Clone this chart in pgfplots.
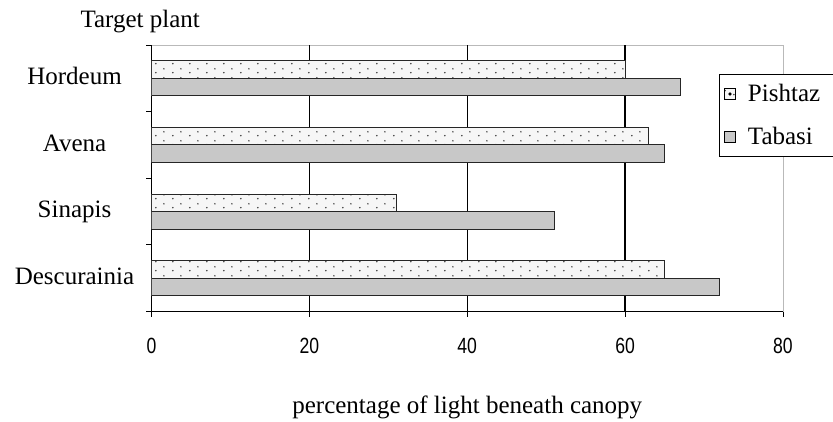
\documentclass[border=0pt]{standalone}
\usepackage{fontspec}
\setmainfont{Liberation Serif}
\newfontfamily\tickfont[FakeStretch=0.8]{Liberation Sans}
\usepackage{pgfplots}
\pgfplotsset{compat=1.18}
\usetikzlibrary{patterns}
\pgfdeclarepatternformonly{sparsedots}{\pgfpointorigin}{\pgfpoint{17pt}{8.75pt}}{\pgfpoint{17pt}{8.75pt}}{%
  \pgfpathcircle{\pgfpoint{3pt}{2.4pt}}{0.9pt}%
  \pgfpathcircle{\pgfpoint{11.5pt}{6.4pt}}{0.9pt}%
  \pgfusepath{fill}}
\definecolor{lightbar}{HTML}{F6F6F6}
\definecolor{graybar}{HTML}{C8C8C8}
\begin{document}
\begin{tikzpicture}
\path[use as bounding box] (0,0) rectangle (833pt,421pt);
\begin{axis}[
  at={(151.5pt,109.5pt)}, anchor=south west,
  scale only axis, width=631.5pt, height=266.5pt,
  xbar, bar width=17.5pt,
  xmin=0, xmax=80, ymin=-0.5, ymax=3.5,
  axis x line*=bottom, axis y line*=left,
  axis line style={-, black},
  x axis line style={line width=1.2pt},
  y axis line style={line width=1.6pt},
  axis background/.style={draw=gray!55, line width=1pt},
  tick align=outside, major tick length=5pt,
  tick style={black, line width=1pt},
  xtick={0,20,40,60,80},
  /pgf/number format/assume math mode=true,
  xticklabel style={font=\fontsize{22}{22}\tickfont, yshift=-18pt},
  extra x ticks={20,40,60}, extra x tick labels={,,},
  extra x tick style={grid=major, major grid style={black, line width=1.3pt}, tick style={draw=none}},
  ytick={-0.5,0.5,1.5,2.5,3.5}, yticklabels={,,,,},
  extra y ticks={0,1,2,3},
  extra y tick labels={Descurainia,Sinapis,Avena,Hordeum},
  extra y tick style={tick style={draw=none}},
  yticklabel style={anchor=center, xshift=-72pt, yshift=-3pt, font=\fontsize{25}{25}\selectfont, text height=0.66em, text depth=0pt},
  xlabel={percentage of light beneath canopy},
  every axis x label/.style={at={(rel axis cs:0.5,0)}, anchor=base, yshift=-101.5pt, font=\fontsize{25}{25}\selectfont},
  ylabel={Target plant},
  every axis y label/.style={at={(rel axis cs:0,1)}, anchor=base west, xshift=-74.5pt, yshift=18pt, font=\fontsize{25}{25}\selectfont},
  legend style={at={(rel axis cs:0.898,0.891)}, anchor=north west, draw=black, line width=1pt,
    font=\fontsize{25}{25}\selectfont, inner xsep=5pt, inner ysep=8pt, row sep=20pt},
  legend cell align=left,
]
\addplot[draw=black!85, line width=1.1pt, fill=lightbar, postaction={pattern=sparsedots, pattern color=black!75}, bar shift=8.75pt,
  legend image code/.code={\draw[draw=black, line width=0.9pt, fill=lightbar] (0pt,-5.5pt) rectangle (11pt,5.5pt); \fill[black] (5.5pt,0pt) circle (0.9pt);}]
  coordinates {(65,0) (31,1) (63,2) (60,3)};
\addlegendentry{\rule{10pt}{0pt}Pishtaz\rule{16pt}{0pt}}
\addplot[draw=black!85, line width=1.1pt, fill=graybar, bar shift=-8.75pt,
  legend image code/.code={\draw[draw=black, line width=0.9pt, fill=graybar] (0pt,-5.5pt) rectangle (11pt,5.5pt);}]
  coordinates {(72,0) (51,1) (65,2) (67,3)};
\addlegendentry{\rule{10pt}{0pt}Tabasi}
\end{axis}
\end{tikzpicture}
\end{document}
